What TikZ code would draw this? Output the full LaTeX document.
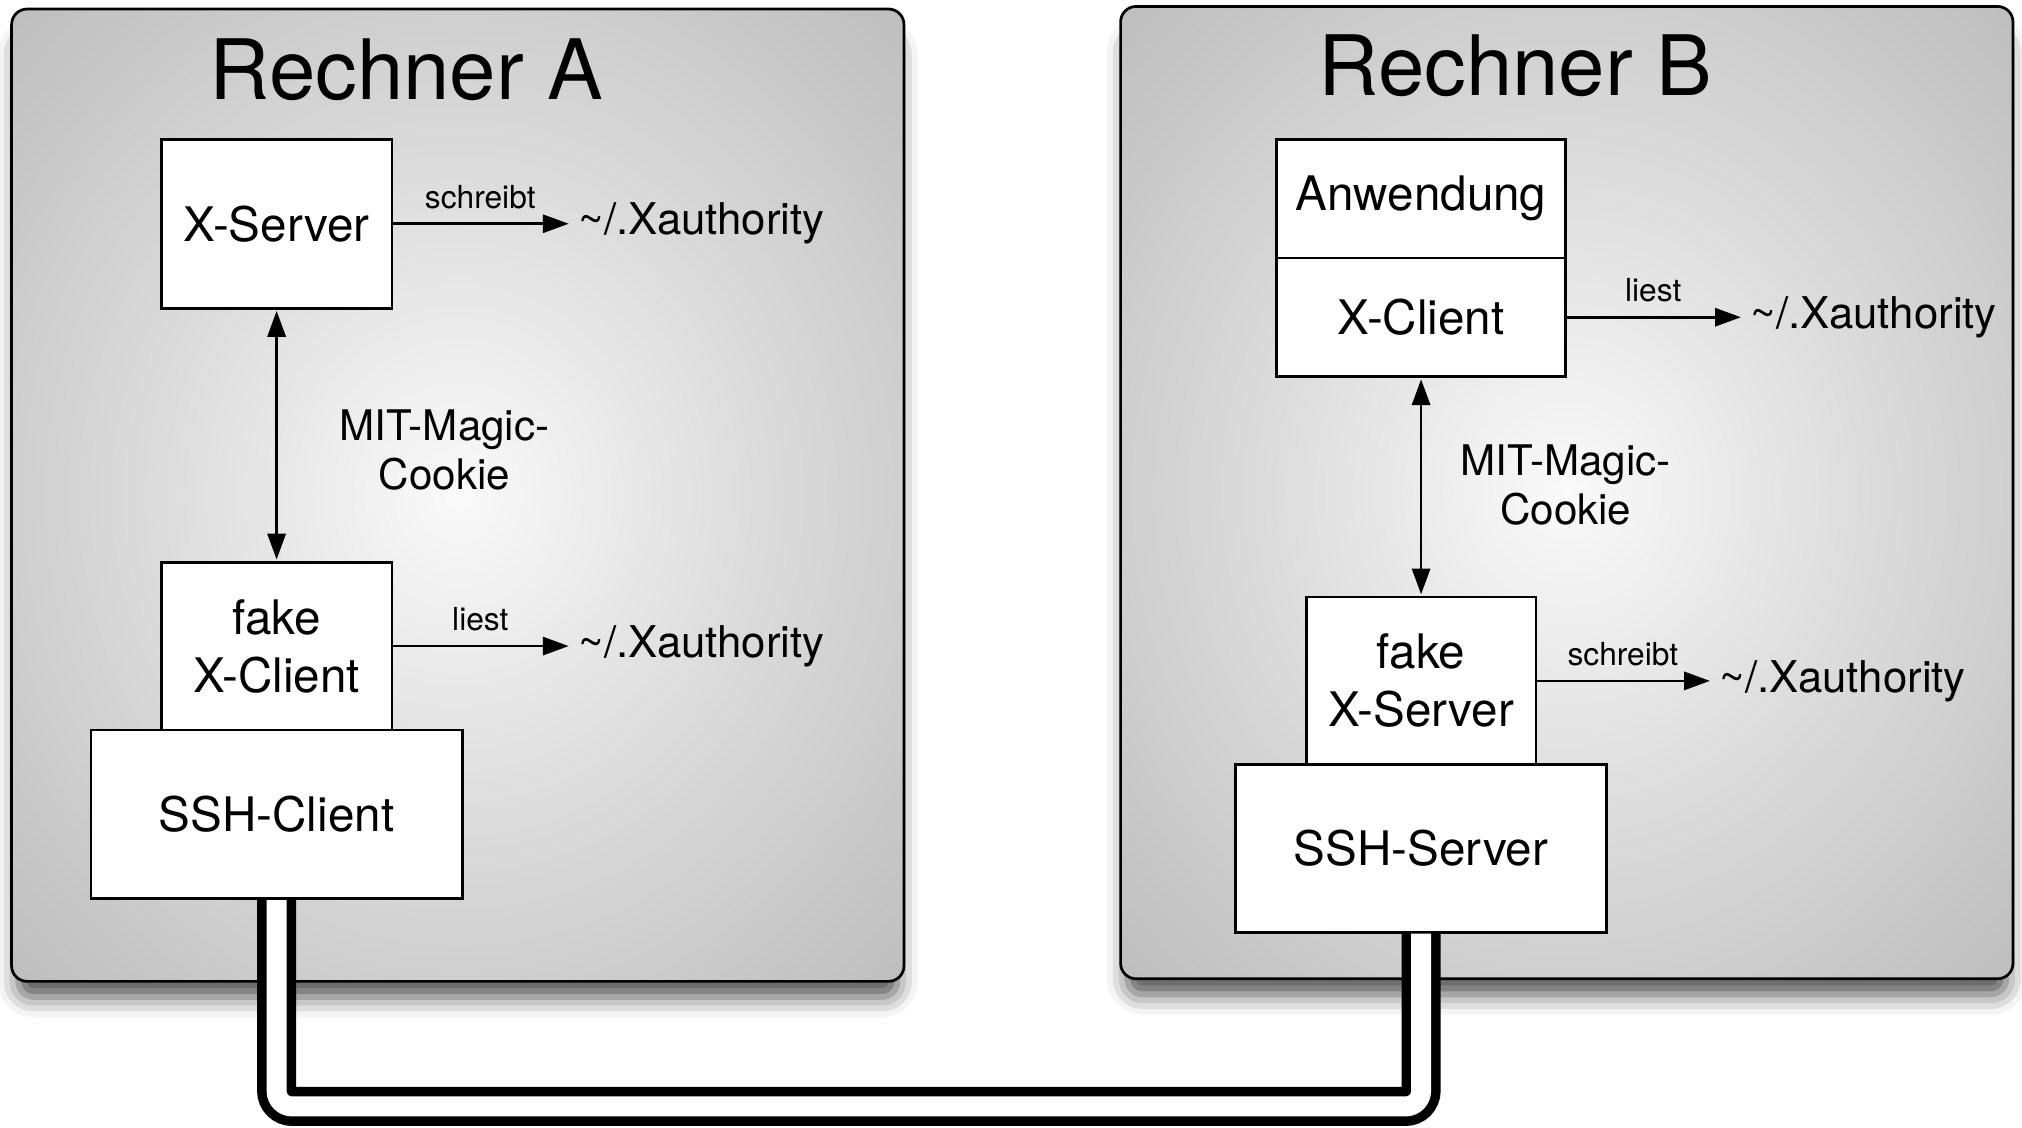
\documentclass[tikz,border=0pt]{standalone}
\usepackage{fontspec}
\setmainfont{TeX Gyre Heros}
\usepackage{tikz}
\usetikzlibrary{arrows.meta, positioning, shadows.blur}
\pgfdeclareradialshading{panelshade}{\pgfpoint{0bp}{0bp}}{color(0bp)=(black!2); color(10bp)=(black!9); color(17bp)=(black!14); color(25bp)=(black!19); color(36bp)=(black!26); color(50bp)=(black!30)}
\tikzstyle{panel} = [rectangle, draw=black, line width=0.6pt, rounded corners=0.12cm, minimum width=6.92cm, minimum height=7.54cm, shading=panelshade, blur shadow={shadow xshift=0pt, shadow yshift=-0.18cm, shadow scale=0.985, shadow blur radius=0.16cm, shadow opacity=70}]
\tikzstyle{title} = [font=\fontsize{18.4}{22}\selectfont]
\tikzstyle{box} = [rectangle, draw, line width=0.6pt, fill=white, outer sep=0pt, align=center, font=\fontsize{10.5}{12.8}\selectfont]
\tikzstyle{file} = [inner sep=0.07cm, font=\fontsize{9.65}{11}\selectfont]
\tikzstyle{cookie} = [align=center, font=\fontsize{9.3}{10.8}\selectfont]
\tikzstyle{smalllabel} = [inner sep=3pt, font=\fontsize{7}{8}\selectfont]
\tikzstyle{arrow} = [line width=0.6pt, -{Triangle[length=5.7pt, width=4pt]}]
\tikzstyle{biarrow} = [line width=0.6pt, {Triangle[length=5.7pt, width=4pt]}-{Triangle[length=5.7pt, width=4pt]}, shorten <=0.6pt, shorten >=0.6pt]
\tikzstyle{cable} = [line width=2.1pt, double=white, double distance=4.4pt, rounded corners=0.12cm, shorten <=0.3pt, shorten >=0.3pt]

\begin{document}
\begin{tikzpicture}
    \useasboundingbox (0,0) rectangle (15.68,-8.74);

    % Rechner
    \node (rechnerA) [panel] at (3.55,-3.84) {};
    \node (rechnerB) [panel] at (12.15,-3.82) {};
    \node (titleA) [title] at (3.15,-0.54) {Rechner A};
    \node (titleB) [title] at (11.75,-0.51) {Rechner B};

    % Rechner A
    \node (xserver) [box, minimum width=1.79cm, minimum height=1.31cm] at (2.145,-1.735) {X-Server};
    \node (fakexc) [box, minimum width=1.79cm, minimum height=1.30cm, below=1.97cm of xserver] {fake\\X-Client};
    \node (sshc) [box, minimum width=2.88cm, minimum height=1.31cm, below=0pt of fakexc] {SSH-Client};
    \node (xauthA1) [file, right=1.37cm of xserver] {\textasciitilde/.Xauthority};
    \node (xauthA2) [file, right=1.37cm of fakexc] {\textasciitilde/.Xauthority};

    % Rechner B
    \node (xclient) [box, minimum width=2.24cm, minimum height=0.92cm] at (11.02,-2.46) {X-Client};
    \node (anw) [box, minimum width=2.24cm, minimum height=0.92cm, above=0pt of xclient] {Anwendung};
    \node (fakexs) [box, minimum width=1.78cm, minimum height=1.30cm, below=1.71cm of xclient] {fake\\X-Server};
    \node (sshs) [box, minimum width=2.88cm, minimum height=1.30cm, below=0pt of fakexs] {SSH-Server};
    \node (xauthB1) [file, right=1.36cm of xclient] {\textasciitilde/.Xauthority};
    \node (xauthB2) [file, right=1.35cm of fakexs] {\textasciitilde/.Xauthority};

    % Arrows - Rechner A
    \draw [arrow] (xserver) -- node[above, smalllabel] {schreibt} (xauthA1);
    \draw [arrow] (fakexc) -- node[above, smalllabel] {liest} (xauthA2);
    \draw [biarrow] (xserver) -- node[right=0.36cm, pos=0.56, cookie] {MIT-Magic-\\Cookie} (fakexc);

    % Arrows - Rechner B
    \draw [arrow] (xclient) -- node[above, smalllabel] {liest} (xauthB1);
    \draw [arrow] (fakexs) -- node[above, smalllabel] {schreibt} (xauthB2);
    \draw [biarrow] (xclient) -- node[right=0.18cm, pos=0.49, cookie] {MIT-Magic-\\Cookie} (fakexs);

    % SSH connection
    \draw [cable] (sshc.south) -- ++(0,-1.61) -| (sshs.south);

\end{tikzpicture}
\end{document}
